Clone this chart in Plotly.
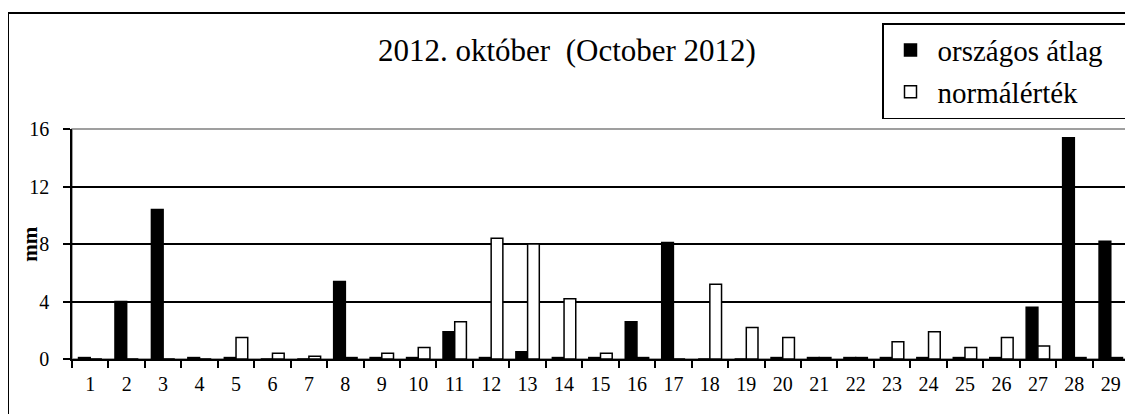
import plotly.graph_objects as go

days = [str(d) for d in range(1, 30)]
orszagos_atlag = [0.1, 4.0, 10.4, 0.1, 0.1, 0.0, 0.0, 5.4, 0.1, 0.1, 1.9, 0.1, 0.5, 0.1, 0.1,
                  2.6, 8.1, 0.0, 0.0, 0.1, 0.1, 0.1, 0.1, 0.1, 0.1, 0.1, 3.6, 15.4, 8.2]
normalertek = [0.0, 0.0, 0.0, 0.0, 1.5, 0.4, 0.2, 0.1, 0.4, 0.8, 2.6, 8.4, 8.0, 4.2, 0.4,
               0.1, 0.0, 5.2, 2.2, 1.5, 0.1, 0.1, 1.2, 1.9, 0.8, 1.5, 0.9, 0.1, 0.1]
series_names = ["országos átlag", "normálérték"]
y_ticks = [0, 4, 8, 12, 16]

# page body margin offsets the figure by 8px
OFF = 8
W, H = 1133 - OFF, 414 - OFF
# reference pixel geometry of plot area
REF_L, REF_R, REF_T, REF_B = 72, 1129, 129, 359.5
L = REF_L - OFF
R = W - (REF_R - OFF)
T = REF_T - OFF
B = H - (REF_B - OFF)
pw, ph = W - L - R, H - T - B

def px_x(x):
    return (x - REF_L) / pw

def px_y(y):
    return (REF_B - y) / ph

FONT = "Liberation Serif"
PAD = "\u00a0" * 3  # right padding inside legend box

fig = go.Figure()
fig.add_trace(go.Bar(x=days, y=orszagos_atlag, name=series_names[0] + PAD, legendgroup="a",
                     marker=dict(color="black", line=dict(color="black", width=1.5))))
fig.add_trace(go.Bar(x=days, y=normalertek, name=series_names[1] + PAD, legendgroup="b",
                     marker=dict(color="white", line=dict(color="black", width=1.5))))

fig.update_layout(
    width=W, height=H,
    margin=dict(l=L, r=R, t=T, b=B, pad=0, autoexpand=False),
    paper_bgcolor="white", plot_bgcolor="white",
    font=dict(family=FONT, color="black", size=20),
    barmode="group", bargap=0.358, bargroupgap=0,
    showlegend=True,
    legend=dict(x=px_x(1131), xanchor="right", y=px_y(23), yanchor="top",
                bgcolor="white", bordercolor="black", borderwidth=1.5,
                font=dict(family=FONT, size=29, color="black"),
                itemwidth=44, tracegroupgap=1),
)

fig.update_xaxes(type="category", showgrid=False, showline=True, linecolor="black",
                 linewidth=1.5, ticks="outside", tickson="boundaries", ticklen=7,
                 tickcolor="black", tickwidth=1.5, tickfont=dict(family=FONT, size=20),
                 ticklabelstandoff=6, zeroline=False)
fig.update_yaxes(range=[0, 16], tickvals=y_ticks, showgrid=True, gridcolor="black",
                 gridwidth=1.5, showline=True, linecolor="black", linewidth=1.5,
                 ticks="outside", ticklen=7, tickcolor="black", tickwidth=1.5,
                 tickfont=dict(family=FONT, size=20), ticklabelstandoff=10, zeroline=False)

# plot area border (grey top/right)
fig.add_shape(type="rect", xref="paper", yref="paper", x0=0, x1=1, y0=0, y1=1,
              line=dict(color="#808080", width=1.5), layer="below")
# outer chart frame
fig.add_shape(type="rect", xref="paper", yref="paper",
              x0=px_x(8), x1=px_x(1150), y0=px_y(440), y1=px_y(12.7),
              line=dict(color="black", width=2))

fig.add_annotation(text="2012. október  (October 2012)", xref="paper", yref="paper",
                   x=px_x(567), y=px_y(50), xanchor="center", yanchor="middle",
                   showarrow=False, font=dict(family=FONT, size=31, color="black"))
fig.add_annotation(text="<b>mm</b>", xref="paper", yref="paper",
                   x=px_x(30), y=px_y(245), xanchor="center", yanchor="middle",
                   showarrow=False, textangle=-90,
                   font=dict(family=FONT, size=21, color="black"))

fig.write_html("out.html")
